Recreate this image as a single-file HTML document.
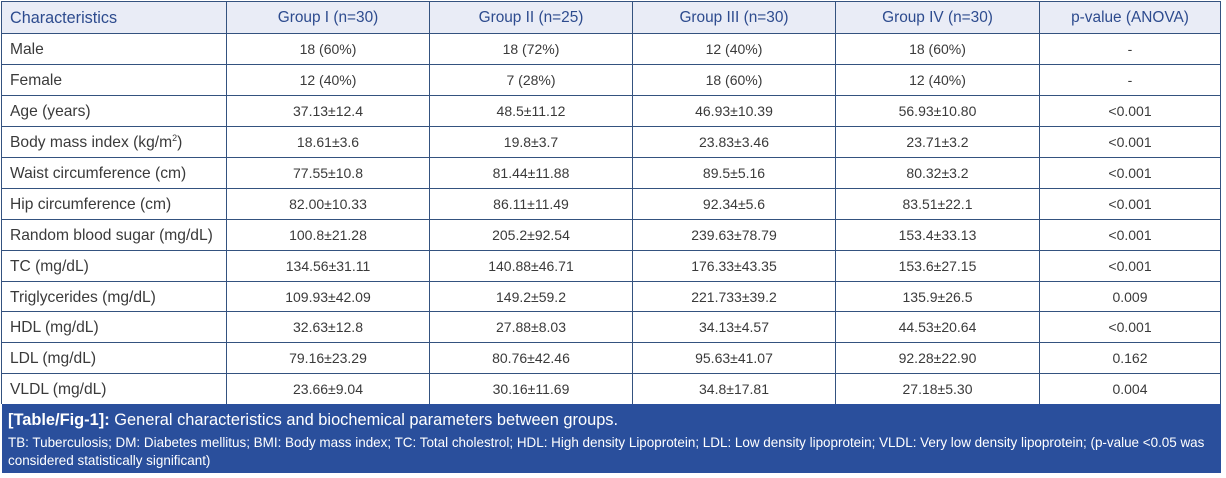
<!DOCTYPE html>
<html><head><meta charset="utf-8">
<style>
html,body{margin:0;padding:0;background:#fff;}
#w{position:relative;width:1226px;height:478px;overflow:hidden;background:#fff;font-family:"Liberation Sans",Arial,sans-serif;}
.hb{position:absolute;left:1px;top:1px;width:1220px;height:32px;background:#e9ecf6;}
.v{position:absolute;top:1px;width:1px;height:403px;background:#34527f;}
.h{position:absolute;left:1px;width:1220px;height:1px;background:#34527f;}
.c{position:absolute;height:31px;line-height:32px;font-size:14px;color:#3a3a3a;text-align:center;white-space:nowrap;}
.l{text-align:left;padding-left:9px;box-sizing:border-box;font-size:15.6px;line-height:34px;}
.hd{color:#2d4b8e;font-size:15.4px;}
.l.hd{font-size:16.2px;line-height:32px;}
.ft{position:absolute;left:2px;top:404px;width:1219px;height:69px;background:#2a4f9c;color:#fff;}
.f1{position:absolute;left:6px;top:7px;font-size:16.4px;white-space:nowrap;}
.f2{position:absolute;left:6px;top:30px;font-size:13.45px;line-height:18px;white-space:nowrap;}
sup{font-size:9px;line-height:0;}
</style></head><body><div id="w">
<div class="hb"></div>

<div class="h" style="top:1px"></div>
<div class="h" style="top:33px"></div>
<div class="h" style="top:64px"></div>
<div class="h" style="top:95px"></div>
<div class="h" style="top:126px"></div>
<div class="h" style="top:157px"></div>
<div class="h" style="top:188px"></div>
<div class="h" style="top:219px"></div>
<div class="h" style="top:250px"></div>
<div class="h" style="top:281px"></div>
<div class="h" style="top:311px"></div>
<div class="h" style="top:342px"></div>
<div class="h" style="top:373px"></div>

<div class="v" style="left:1px"></div>
<div class="v" style="left:226px"></div>
<div class="v" style="left:429px"></div>
<div class="v" style="left:632px"></div>
<div class="v" style="left:835px"></div>
<div class="v" style="left:1039px"></div>
<div class="v" style="left:1220px"></div>

<!-- header -->
<div class="c l hd" style="left:1px;top:2px;width:225px">Characteristics</div>
<div class="c hd" style="left:227px;top:2px;width:202px">Group I (n=30)</div>
<div class="c hd" style="left:430px;top:2px;width:202px">Group II (n=25)</div>
<div class="c hd" style="left:633px;top:2px;width:202px">Group III (n=30)</div>
<div class="c hd" style="left:836px;top:2px;width:203px">Group IV (n=30)</div>
<div class="c hd" style="left:1040px;top:2px;width:180px">p-value (ANOVA)</div>

<!-- rows -->
<div class="c l" style="left:1px;top:33px;width:225px">Male</div>
<div class="c" style="left:227px;top:33px;width:202px">18 (60%)</div>
<div class="c" style="left:430px;top:33px;width:202px">18 (72%)</div>
<div class="c" style="left:633px;top:33px;width:202px">12 (40%)</div>
<div class="c" style="left:836px;top:33px;width:203px">18 (60%)</div>
<div class="c" style="left:1040px;top:33px;width:180px">-</div>

<div class="c l" style="left:1px;top:64px;width:225px">Female</div>
<div class="c" style="left:227px;top:64px;width:202px">12 (40%)</div>
<div class="c" style="left:430px;top:64px;width:202px">7 (28%)</div>
<div class="c" style="left:633px;top:64px;width:202px">18 (60%)</div>
<div class="c" style="left:836px;top:64px;width:203px">12 (40%)</div>
<div class="c" style="left:1040px;top:64px;width:180px">-</div>

<div class="c l" style="left:1px;top:95px;width:225px">Age (years)</div>
<div class="c" style="left:227px;top:95px;width:202px">37.13±12.4</div>
<div class="c" style="left:430px;top:95px;width:202px">48.5±11.12</div>
<div class="c" style="left:633px;top:95px;width:202px">46.93±10.39</div>
<div class="c" style="left:836px;top:95px;width:203px">56.93±10.80</div>
<div class="c" style="left:1040px;top:95px;width:180px">&lt;0.001</div>

<div class="c l" style="left:1px;top:126px;width:225px">Body mass index (kg/m<sup>2</sup>)</div>
<div class="c" style="left:227px;top:126px;width:202px">18.61±3.6</div>
<div class="c" style="left:430px;top:126px;width:202px">19.8±3.7</div>
<div class="c" style="left:633px;top:126px;width:202px">23.83±3.46</div>
<div class="c" style="left:836px;top:126px;width:203px">23.71±3.2</div>
<div class="c" style="left:1040px;top:126px;width:180px">&lt;0.001</div>

<div class="c l" style="left:1px;top:157px;width:225px">Waist circumference (cm)</div>
<div class="c" style="left:227px;top:157px;width:202px">77.55±10.8</div>
<div class="c" style="left:430px;top:157px;width:202px">81.44±11.88</div>
<div class="c" style="left:633px;top:157px;width:202px">89.5±5.16</div>
<div class="c" style="left:836px;top:157px;width:203px">80.32±3.2</div>
<div class="c" style="left:1040px;top:157px;width:180px">&lt;0.001</div>

<div class="c l" style="left:1px;top:188px;width:225px">Hip circumference (cm)</div>
<div class="c" style="left:227px;top:188px;width:202px">82.00±10.33</div>
<div class="c" style="left:430px;top:188px;width:202px">86.11±11.49</div>
<div class="c" style="left:633px;top:188px;width:202px">92.34±5.6</div>
<div class="c" style="left:836px;top:188px;width:203px">83.51±22.1</div>
<div class="c" style="left:1040px;top:188px;width:180px">&lt;0.001</div>

<div class="c l" style="left:1px;top:219px;width:225px">Random blood sugar (mg/dL)</div>
<div class="c" style="left:227px;top:219px;width:202px">100.8±21.28</div>
<div class="c" style="left:430px;top:219px;width:202px">205.2±92.54</div>
<div class="c" style="left:633px;top:219px;width:202px">239.63±78.79</div>
<div class="c" style="left:836px;top:219px;width:203px">153.4±33.13</div>
<div class="c" style="left:1040px;top:219px;width:180px">&lt;0.001</div>

<div class="c l" style="left:1px;top:250px;width:225px">TC (mg/dL)</div>
<div class="c" style="left:227px;top:250px;width:202px">134.56±31.11</div>
<div class="c" style="left:430px;top:250px;width:202px">140.88±46.71</div>
<div class="c" style="left:633px;top:250px;width:202px">176.33±43.35</div>
<div class="c" style="left:836px;top:250px;width:203px">153.6±27.15</div>
<div class="c" style="left:1040px;top:250px;width:180px">&lt;0.001</div>

<div class="c l" style="left:1px;top:281px;width:225px">Triglycerides (mg/dL)</div>
<div class="c" style="left:227px;top:281px;width:202px">109.93±42.09</div>
<div class="c" style="left:430px;top:281px;width:202px">149.2±59.2</div>
<div class="c" style="left:633px;top:281px;width:202px">221.733±39.2</div>
<div class="c" style="left:836px;top:281px;width:203px">135.9±26.5</div>
<div class="c" style="left:1040px;top:281px;width:180px">0.009</div>

<div class="c l" style="left:1px;top:311px;width:225px">HDL (mg/dL)</div>
<div class="c" style="left:227px;top:311px;width:202px">32.63±12.8</div>
<div class="c" style="left:430px;top:311px;width:202px">27.88±8.03</div>
<div class="c" style="left:633px;top:311px;width:202px">34.13±4.57</div>
<div class="c" style="left:836px;top:311px;width:203px">44.53±20.64</div>
<div class="c" style="left:1040px;top:311px;width:180px">&lt;0.001</div>

<div class="c l" style="left:1px;top:342px;width:225px">LDL (mg/dL)</div>
<div class="c" style="left:227px;top:342px;width:202px">79.16±23.29</div>
<div class="c" style="left:430px;top:342px;width:202px">80.76±42.46</div>
<div class="c" style="left:633px;top:342px;width:202px">95.63±41.07</div>
<div class="c" style="left:836px;top:342px;width:203px">92.28±22.90</div>
<div class="c" style="left:1040px;top:342px;width:180px">0.162</div>

<div class="c l" style="left:1px;top:373px;width:225px">VLDL (mg/dL)</div>
<div class="c" style="left:227px;top:373px;width:202px">23.66±9.04</div>
<div class="c" style="left:430px;top:373px;width:202px">30.16±11.69</div>
<div class="c" style="left:633px;top:373px;width:202px">34.8±17.81</div>
<div class="c" style="left:836px;top:373px;width:203px">27.18±5.30</div>
<div class="c" style="left:1040px;top:373px;width:180px">0.004</div>

<div class="ft">
<div class="f1"><b>[Table/Fig-1]:</b> General characteristics and biochemical parameters between groups.</div>
<div class="f2">TB: Tuberculosis; DM: Diabetes mellitus; BMI: Body mass index; TC: Total cholestrol; HDL: High density Lipoprotein; LDL: Low density lipoprotein; VLDL: Very low density lipoprotein; (p-value &lt;0.05 was<br>considered statistically significant)</div>
</div>
</div></body></html>
